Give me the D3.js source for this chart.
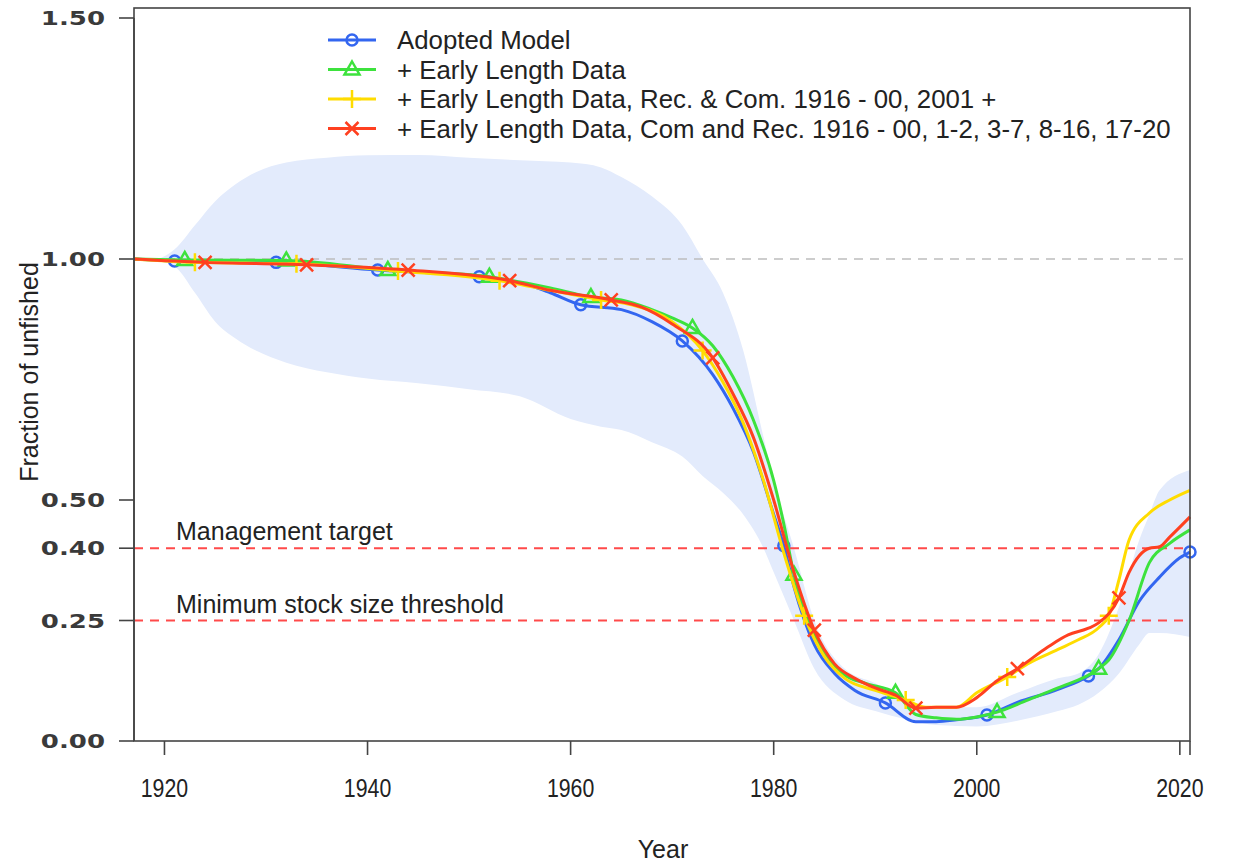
<!DOCTYPE html>
<html>
<head>
<meta charset="utf-8">
<script src="https://cdn.jsdelivr.net/npm/d3@7"></script>
<style>
  body { margin: 0; background: #fff; }
  svg text { font-family: "Liberation Sans", Arial, sans-serif; fill: #222; }
</style>
</head>
<body>
<svg id="chart"></svg>
<script>
var width = 1238, height = 862;

// ---- data ----
var seriesNames = [
  "Adopted Model",
  "+ Early Length Data",
  "+ Early Length Data, Rec. & Com. 1916 - 00, 2001 +",
  "+ Early Length Data, Com and Rec. 1916 - 00, 1-2, 3-7, 8-16, 17-20"
];

var blueYears = [1917,1921,1931,1941,1951,1956,1958,1961,1965,1968,1971,1974,1976,1978,1980,1981,1982,1984,1986,1988,1991,1994,1996,1998,2001,2004,2008,2011,2012,2014,2016,2018,2020,2021];
var blueVals  = [1.0,0.996,0.993,0.977,0.963,0.945,0.93,0.905,0.895,0.87,0.83,0.76,0.69,0.6,0.47,0.405,0.32,0.2,0.14,0.105,0.079,0.04,0.04,0.044,0.054,0.08,0.107,0.135,0.15,0.21,0.29,0.34,0.38,0.392];

var greenYears = [1917,1922,1932,1942,1952,1958,1962,1965,1968,1970,1972,1974,1976,1978,1980,1981,1982,1984,1987,1989,1992,1994,1996,1998,2000,2002,2005,2008,2012,2013,2015,2017,2019,2021];
var greenVals  = [1.0,0.998,0.997,0.977,0.963,0.94,0.921,0.915,0.895,0.878,0.857,0.82,0.755,0.666,0.54,0.45,0.345,0.22,0.137,0.12,0.1,0.055,0.048,0.045,0.05,0.06,0.085,0.11,0.15,0.168,0.25,0.37,0.41,0.438];

var yellowYears = [1917,1923,1933,1943,1953,1958,1963,1966,1970,1973,1975,1977,1979,1981,1983,1985,1987,1990,1993,1995,1998,2000,2003,2005,2008,2010,2012,2013,2014,2015,2017,2019,2021];
var yellowVals  = [1.0,0.993,0.99,0.975,0.955,0.935,0.915,0.905,0.87,0.81,0.745,0.66,0.54,0.39,0.26,0.175,0.13,0.105,0.085,0.07,0.07,0.1,0.133,0.16,0.19,0.21,0.235,0.26,0.334,0.417,0.473,0.5,0.52];

var redYears = [1917,1924,1934,1944,1954,1958,1964,1967,1970,1974,1976,1978,1980,1982,1984,1986,1988,1990,1992,1994,1996,1998,2000,2002,2004,2007,2009,2011,2012,2014,2015,2017,2018,2019,2021];
var redVals  = [1.0,0.993,0.988,0.977,0.955,0.935,0.915,0.9,0.865,0.795,0.72,0.63,0.5,0.35,0.23,0.16,0.13,0.11,0.095,0.068,0.07,0.07,0.09,0.125,0.15,0.195,0.22,0.234,0.245,0.297,0.35,0.40,0.403,0.423,0.465];

// first marker year of each series (then every 10 years)
var markerStart = [1921, 1922, 1923, 1924];

// uncertainty band of the adopted model
var bandYears = [1917,1919,1921,1923,1925,1927,1929,1932,1936,1940,1945,1950,1955,1960,1963,1965,1968,1971,1973,1975,1977,1979,1980,1982,1984,1987,1990,1993,1996,2000,2004,2008,2010,2012,2014,2016,2017,2018,2021];
var bandHigh  = [1.0,1.0,1.02,1.07,1.12,1.155,1.18,1.2,1.21,1.215,1.216,1.21,1.205,1.2,1.19,1.17,1.13,1.07,1.0,0.93,0.81,0.63,0.54,0.40,0.25,0.15,0.12,0.085,0.07,0.07,0.1,0.13,0.14,0.18,0.278,0.417,0.47,0.52,0.562];
var bandLow   = [1.0,1.0,0.985,0.93,0.87,0.835,0.81,0.785,0.765,0.752,0.742,0.73,0.715,0.668,0.652,0.645,0.62,0.59,0.55,0.515,0.47,0.40,0.35,0.25,0.15,0.085,0.062,0.045,0.033,0.03,0.042,0.062,0.075,0.10,0.14,0.2,0.224,0.224,0.216];

var yTicks = [0, 0.25, 0.40, 0.50, 1.00, 1.50];
var xTicks = [1920, 1940, 1960, 1980, 2000, 2020];
var refLines = [
  { v: 0.40, label: "Management target" },
  { v: 0.25, label: "Minimum stock size threshold" }
];

var colors = ["#3366f0", "#3de23d", "#ffdc00", "#ff4020"];
var shapes = ["circle", "triangle", "plus", "cross"];

// ---- layout ----
var box = { left: 134, right: 1190, top: 8, bottom: 741 };

var svg = d3.select("#chart").attr("width", width).attr("height", height);

var x = d3.scaleLinear().domain([1917, 2021]).range([box.left, box.right]);
var y = d3.scaleLinear().domain([0, 1.5]).range([741, 18]);

// band
var bandData = bandYears.map(function(yr, i){ return { yr: yr, lo: bandLow[i], hi: bandHigh[i] }; });
svg.append("path")
  .datum(bandData)
  .attr("fill", "#e3ebfc")
  .attr("d", d3.area()
    .x(function(d){ return x(d.yr); })
    .y0(function(d){ return y(d.lo); })
    .y1(function(d){ return y(d.hi); })
    .curve(d3.curveMonotoneX));

// reference line at 1
svg.append("line")
  .attr("x1", box.left).attr("x2", box.right)
  .attr("y1", y(1)).attr("y2", y(1))
  .attr("stroke", "#bdbdbd").attr("stroke-width", 1.6)
  .attr("stroke-dasharray", "9,7");

// management lines
refLines.forEach(function(r){
  svg.append("line")
    .attr("x1", box.left).attr("x2", box.right)
    .attr("y1", y(r.v)).attr("y2", y(r.v))
    .attr("stroke", "#ff4a4a").attr("stroke-width", 2)
    .attr("stroke-dasharray", "9,7");
  svg.append("text")
    .attr("x", 176).attr("y", y(r.v) - 8)
    .attr("font-size", 25)
    .text(r.label);
});

// series
var allSeries = [
  { years: blueYears, vals: blueVals },
  { years: greenYears, vals: greenVals },
  { years: yellowYears, vals: yellowVals },
  { years: redYears, vals: redVals }
];

var line = d3.line()
  .x(function(d){ return x(d[0]); })
  .y(function(d){ return y(d[1]); })
  .curve(d3.curveMonotoneX);

function marker(g, shape, cx, cy, col) {
  if (shape === "circle") {
    g.append("circle").attr("cx", cx).attr("cy", cy).attr("r", 5.5)
      .attr("fill", "none").attr("stroke", col).attr("stroke-width", 2.5);
  } else if (shape === "triangle") {
    g.append("path")
      .attr("d", "M" + cx + "," + (cy - 8) + "L" + (cx + 7.5) + "," + (cy + 5) + "L" + (cx - 7.5) + "," + (cy + 5) + "Z")
      .attr("fill", "none").attr("stroke", col).attr("stroke-width", 2.5);
  } else if (shape === "plus") {
    g.append("path")
      .attr("d", "M" + (cx - 9) + "," + cy + "H" + (cx + 9) + "M" + cx + "," + (cy - 9) + "V" + (cy + 9))
      .attr("stroke", col).attr("stroke-width", 2.5);
  } else {
    g.append("path")
      .attr("d", "M" + (cx - 6.5) + "," + (cy - 6.5) + "L" + (cx + 6.5) + "," + (cy + 6.5) + "M" + (cx - 6.5) + "," + (cy + 6.5) + "L" + (cx + 6.5) + "," + (cy - 6.5))
      .attr("stroke", col).attr("stroke-width", 2.5);
  }
}

allSeries.forEach(function(s, i){
  var pts = s.years.map(function(yr, j){ return [yr, s.vals[j]]; });
  svg.append("path")
    .datum(pts)
    .attr("fill", "none")
    .attr("stroke", colors[i])
    .attr("stroke-width", 3)
    .attr("stroke-linejoin", "round")
    .attr("d", line);
  var g = svg.append("g");
  pts.filter(function(p){ return p[0] >= markerStart[i] && (p[0] - markerStart[i]) % 10 === 0; })
    .forEach(function(p){ marker(g, shapes[i], x(p[0]), y(p[1]), colors[i]); });
});

// box and axes
svg.append("rect")
  .attr("x", box.left).attr("y", box.top)
  .attr("width", box.right - box.left).attr("height", box.bottom - box.top)
  .attr("fill", "none").attr("stroke", "#444").attr("stroke-width", 1.6);

var yAxis = svg.append("g");
yAxis.append("line")
  .attr("x1", box.left).attr("x2", box.left)
  .attr("y1", y(1.5)).attr("y2", y(0))
  .attr("stroke", "#444").attr("stroke-width", 1.6);
yTicks.forEach(function(t){
  yAxis.append("line")
    .attr("x1", box.left - 15).attr("x2", box.left)
    .attr("y1", y(t)).attr("y2", y(t))
    .attr("stroke", "#444").attr("stroke-width", 1.6);
  yAxis.append("g")
    .attr("transform", "translate(105," + (y(t) + 7) + ") scale(1.3,1)")
    .append("text")
    .attr("text-anchor", "end")
    .attr("font-size", 20)
    .style("font-family", "'DejaVu Sans', sans-serif")
    .style("font-weight", "bold")
    .style("fill", "#3a3a3a")
    .text(d3.format(".2f")(t));
});

var xAxis = svg.append("g");
xTicks.forEach(function(t){
  xAxis.append("g")
    .attr("transform", "translate(" + x(t) + ",797) scale(0.82,1)")
    .append("text")
    .attr("text-anchor", "middle")
    .attr("font-size", 26)
    .text(t);
  xAxis.append("line")
    .attr("x1", x(t)).attr("x2", x(t))
    .attr("y1", box.bottom).attr("y2", box.bottom + 14)
    .attr("stroke", "#444").attr("stroke-width", 1.6);
});
xAxis.append("line")
  .attr("x1", box.right).attr("x2", box.right)
  .attr("y1", box.bottom).attr("y2", box.bottom + 14)
  .attr("stroke", "#444").attr("stroke-width", 1.6);

svg.append("text")
  .attr("x", 663).attr("y", 858)
  .attr("text-anchor", "middle")
  .attr("font-size", 25)
  .text("Year");

svg.append("text")
  .attr("transform", "translate(38,372) rotate(-90)")
  .attr("text-anchor", "middle")
  .attr("font-size", 25)
  .text("Fraction of unfished");

// legend
var legend = svg.append("g");
seriesNames.forEach(function(name, i){
  var ly = 40 + i * 29.5;
  legend.append("line")
    .attr("x1", 328).attr("x2", 376)
    .attr("y1", ly).attr("y2", ly)
    .attr("stroke", colors[i]).attr("stroke-width", 3);
  marker(legend, shapes[i], 352, ly, colors[i]);
  legend.append("text")
    .attr("x", 397).attr("y", ly + 9)
    .attr("font-size", 25.8)
    .text(name);
});
</script>
</body>
</html>
